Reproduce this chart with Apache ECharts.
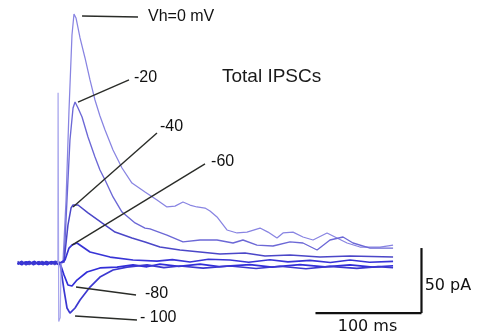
<!DOCTYPE html>
<html>
<head>
<meta charset="utf-8">
<script src="https://cdn.jsdelivr.net/npm/echarts@6/dist/echarts.min.js"></script>
<style>
	html, body { margin: 0; padding: 0; background: #fff; }
	#chart { width: 480px; height: 334px; }
</style>
</head>
<body>
<div id="chart"></div>
<script>
// time in ms (0 = stimulus), current in pA (outward up)
const trace_0 = [
	[-40, 0.5], [-36, -0.9], [-32, 1], [-28, -0.6], [-24, 1.1], [-20, -0.8], [-16, 0.9], [-12, -1], [-8, 0.7], [-4, -0.9], [-2, 0.6],
	[0, 0], [2.8, 0.8], [5.7, 48.5], [8.5, 117.7], [11.3, 175.4], [13.2, 191.5], [15.1, 188.5],
	[18.9, 173.1], [23.6, 157.7], [28.3, 140.8], [33, 125.4], [37.7, 113.1], [42.5, 102.3],
	[50, 86.9], [58.5, 73.1], [67.9, 61.5], [80.2, 54.6], [91.5, 48.5], [100.9, 43.1],
	[108.5, 43.8], [116, 46.9], [122.6, 44.6], [129.2, 43.1], [136.8, 42.3], [141.5, 40],
	[148.1, 35.4], [157.5, 25.4], [167, 23.1], [176.4, 23.8], [188.7, 26.9], [196.2, 23.8],
	[204.7, 19.2], [210.4, 23.1], [219.8, 23.8], [229.2, 20], [238.7, 17.7], [251.9, 23.1],
	[261.3, 19.2], [270.8, 15.4], [283, 12.3], [301.9, 12.3], [314.2, 13.8]
]
const trace_20 = [
	[-40, -0.6], [-36, 1], [-32, -1.1], [-28, 0.8], [-24, -1], [-20, 1.2], [-16, -0.7], [-12, 1], [-8, -1.1], [-4, 0.8], [-2, -0.4],
	[0, 0], [3.8, 0.8], [6.6, 48.5], [9.4, 94.6], [12.3, 119.2], [14.2, 123.8], [17, 119.2],
	[20.8, 112.3], [26.4, 96.9], [33, 81.5], [37.7, 71.5], [42.5, 63.8], [50, 50.8],
	[58.5, 39.2], [70.8, 30.8], [80.2, 26.9], [84.9, 26.2], [100.9, 21.5], [116, 16.2],
	[132.1, 17.7], [148.1, 17.7], [163.2, 15.4], [172.6, 17.7], [185.8, 13.8], [200.9, 13.1],
	[217, 16.2], [229.2, 15.4], [242.5, 10], [254.7, 17.7], [267, 20], [276.4, 15.4],
	[292.5, 11.5], [314.2, 11.5]
]
const trace_40 = [
	[-40, 1.2], [-37, -0.5], [-33, 0.9], [-29, -1.3], [-25, 0.6], [-21, -0.9], [-17, 1.3], [-13, -0.6], [-9, 1], [-5, -1.2], [-2, 0.8],
	[0, 0], [3.8, 0.8], [7.5, 29.2], [10.4, 42.3], [12.3, 44.6], [17, 44.6], [26.4, 38.5],
	[39.6, 30.8], [51.9, 23.8], [67.9, 19.2], [80.2, 16.2], [94.3, 12.3], [113.2, 10],
	[132.1, 8.5], [150.9, 6.9], [174.5, 7.7], [193.4, 5.4], [217, 6.2], [245.3, 4.6],
	[273.6, 5.4], [314.2, 4.6]
]
const trace_60 = [
	[-40, -1.1], [-37, 0.8], [-33, -0.4], [-29, 1.2], [-25, -1.3], [-21, 0.5], [-17, -1], [-13, 1.2], [-9, -0.5], [-5, 1.1], [-2, -0.9],
	[0, 0], [4.7, 2.3], [8.5, 11.5], [11.3, 13.8], [16, 15.4], [28.3, 8.5], [47.2, 4.6],
	[68.9, 2.3], [91.5, 1.5], [106, 2.6], [122.6, 0.8], [140, 2.9], [160.4, 2.3], [178, 0.6], [198.1, 2.5],
	[215, 0.9], [235.8, 2.1], [255, 0.4], [273.6, 2.3], [292, 0.6], [314.2, 1.2]
]
const trace_80 = [
	[-40, 0.2], [-36, -1.3], [-32, 0.9], [-28, -0.2], [-24, 1.3], [-20, -1.2], [-16, 0.3], [-12, -1.3], [-8, 1.1], [-4, -0.4], [-2, 1.2],
	[0, 0], [3.8, -9.2], [7.5, -16.9], [11.3, -17.7], [16, -13.1], [25.5, -6.9], [37.7, -3.8],
	[53.8, -3.1], [68.9, -1.5], [82, -2.9], [94.3, -0.8], [112, -2.6], [132.1, -0.9], [150, -2.8], [179.2, -1.3],
	[200, -3.1], [226.4, -1.2], [250, -3], [273.6, -1.4], [295, -3.2], [314.2, -2.1]
]
const trace_100 = [
	[-40, -0.9], [-36, 1.3], [-32, -1.4], [-28, 0.4], [-24, -0.5], [-20, 1], [-16, -1.4], [-12, 0.6], [-8, -0.3], [-4, 1.3], [-2, -1.1],
	[0, 0], [3.8, -20.8], [6.6, -34.6], [9.4, -38.5], [14.2, -34.6], [18.9, -28.5],
	[28.3, -18.5], [37.7, -10.8], [50, -5.4], [63.2, -3.1], [82.1, -1.5], [98, -3.6], [113.2, -2.3],
	[135, -4], [160.4, -2.3], [185, -4.2], [207.5, -2.5], [232, -4.4], [254.7, -2.6], [280, -4.1], [300, -2.8], [314.2, -3.6]
]
const artifact = [[-2, 0], [-1.8, 131], [-1.2, -45], [0.2, -42], [1, 0]]

const vh_labels = ['Vh=0 mV', '-20', '-40', '-60', '-80', '- 100']
// connector start (on trace peak) and end, in ms / pA
const connectors = [
	[[20.8, 190], [73.6, 189.2]],
	[[17, 123.8], [65.1, 140.8]],
	[[12.3, 43.1], [91.5, 100]],
	[[11.3, 13.8], [136.8, 76.2]],
	[[15.1, -18.5], [71.7, -24.6]],
	[[14.2, -40.8], [72.6, -43.8]]
]
// where each label text starts (left edge, vertical middle)
const label_pos = [[83, 189.2], [69.8, 142.3], [94.3, 104.6], [142.5, 77.7], [80.2, -23.8], [75.5, -42.3]]

const scale_x = [[241, -38.5], [341, -38.5]]
const scale_y = [[341, -38.5], [341, 11.5]]
const scale_labels = ['100 ms', '50 pA']
const scale_label_pos = [[262, -48.8], [344, -17.7]]

const traces = [
	{ data: trace_0, color: '#8884e2', width: 1.25 },
	{ data: trace_20, color: '#6c68d6', width: 1.35 },
	{ data: trace_40, color: '#4b47c8', width: 1.5 },
	{ data: trace_60, color: '#3834d6', width: 1.7 },
	{ data: trace_80, color: '#322ed8', width: 1.7 },
	{ data: trace_100, color: '#3c38d0', width: 1.7 },
	{ data: artifact, color: '#a6a4ec', width: 1.2 }
]

const chart = echarts.init(document.getElementById('chart'), null, { renderer: 'canvas' })

const series = []

traces.map((item) => {
	series.push({
		type: 'line',
		data: item.data,
		showSymbol: false,
		symbol: 'none',
		silent: true,
		lineStyle: { color: item.color, width: item.width }
	})
})

connectors.map((pts) => {
	series.push({
		type: 'line',
		symbol: 'none',
		silent: true,
		lineStyle: { color: '#2a2c28', width: 1.4 },
		data: pts
	})
})

series.push({
	type: 'line',
	symbol: 'none',
	silent: true,
	lineStyle: { color: '#111', width: 2.2 },
	data: scale_x
})

series.push({
	type: 'line',
	symbol: 'none',
	silent: true,
	lineStyle: { color: '#111', width: 2.2 },
	data: scale_y
})

// text anchors, invisible points
series.push({
	type: 'scatter',
	symbolSize: 0,
	silent: true,
	itemStyle: { opacity: 1 },
	data: label_pos.map((p, i) => ({ value: p, name: vh_labels[i] })),
	label: {
		show: true,
		position: 'right',
		distance: 0,
		formatter: (p) => p.name,
		fontFamily: 'Liberation Sans',
		fontSize: 16,
		color: '#111'
	}
})

series.push({
	type: 'scatter',
	symbolSize: 0,
	silent: true,
	itemStyle: { opacity: 1 },
	data: scale_label_pos.map((p, i) => ({ value: p, name: scale_labels[i] })),
	label: {
		show: true,
		position: 'right',
		distance: 0,
		formatter: (p) => p.name,
		fontFamily: 'DejaVu Sans',
		fontSize: 16,
		color: '#111'
	}
})

const option = {
	animation: false,
	backgroundColor: '#fff',
	title: {
		text: 'Total IPSCs',
		left: 217,
		top: 62,
		textStyle: {
			fontFamily: 'Liberation Sans',
			fontSize: 19,
			fontWeight: 'normal',
			color: '#1a1a1a'
		}
	},
	grid: { left: 0, right: 0, top: 0, bottom: 0, show: false },
	xAxis: {
		type: 'value',
		min: -56.6,
		max: 396.2,
		show: false
	},
	yAxis: {
		type: 'value',
		min: -54.6,
		max: 202.3,
		show: false
	},
	series
}

chart.setOption(option)
</script>
</body>
</html>
